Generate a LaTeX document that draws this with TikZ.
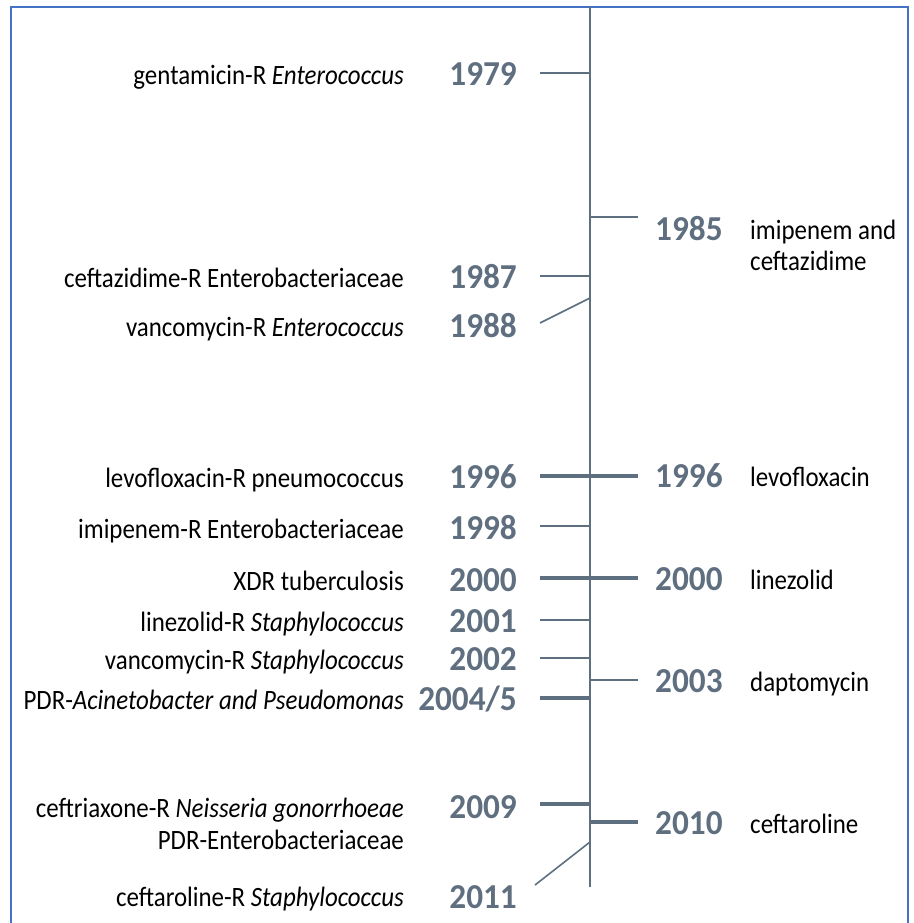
\documentclass[tikz,border=0pt]{standalone}
\usepackage{fontspec}
\setmainfont{Carlito}
\newfontfamily\yearfont[FakeStretch=0.95]{Carlito}
\newfontfamily\labfont[FakeStretch=0.89]{Carlito}
\usetikzlibrary{calc}
\usetikzlibrary{positioning}
\definecolor{FrameBlue}{HTML}{4472C4}
\definecolor{AxisGray}{HTML}{5E7080}
\definecolor{YearGray}{HTML}{5F6F80}

\begin{document}
\begin{tikzpicture}[x=1pt,y=-1pt,
  year/.style={inner sep=0pt,text=YearGray,font=\yearfont\bfseries\fontsize{35}{35}\selectfont},
  lab/.style={inner sep=0pt,font=\labfont\fontsize{28}{28}\selectfont},
  thintick/.style={AxisGray,line width=1.6pt},
  thicktick/.style={AxisGray,line width=4pt}]
  \useasboundingbox (0,0) rectangle (913,923);
  \draw[FrameBlue,line width=2pt] (11,930) -- (11,7) -- (908,7) -- (908,930);

  % time axis
  \coordinate (Top) at (590,7);
  \coordinate (Bottom) at (590,887);
  \draw[AxisGray,line width=2pt] (Top) -- (Bottom);

  % resistance, left side
  \foreach \yr/\ty/\yb/\txt in {%
      1979/73/86/{gentamicin-R \textit{Enterococcus}},
      1987/276/288/{ceftazidime-R Enterobacteriaceae},
      1998/526/539/{imipenem-R Enterobacteriaceae},
      2001/620/632/{linezolid-R \textit{Staphylococcus}},
      2002/658/670/{vancomycin-R \textit{Staphylococcus}}}{%
    \coordinate (a\yr) at (590,\ty);
    \coordinate (t\yr) at (540,\ty);
    \draw[thintick] (t\yr) -- (a\yr);
    \node[year,anchor=base east] (y\yr) at (517,\yb) {\yr};
    \node[lab,anchor=base east] (l\yr) at (404,\yb-1) {\txt};
  }
  \foreach \yr/\ty/\yb/\txt in {%
      1996/476/488/{levofloxacin-R pneumococcus},
      2000/578/591/{XDR tuberculosis},
      2004/698/710/{PDR-\textit{Acinetobacter and Pseudomonas}},
      2009/804/818/{ceftriaxone-R \textit{Neisseria gonorrhoeae}}}{%
    \coordinate (a\yr) at (590,\ty);
    \coordinate (t\yr) at (540,\ty);
    \draw[thicktick] (t\yr) -- (a\yr);
    \node[lab,anchor=base east] (l\yr) at (404,\yb-1) {\txt};
  }
  \node[year,anchor=base east] (y1996) at (517,488) {1996};
  \node[year,anchor=base east] (y2000) at (517,591) {2000};
  \node[year,anchor=base east] (y2004) at (517,710) {2004/5};
  \node[year,anchor=base east] (y2009) at (517,818) {2009};
  \node[lab,anchor=base east] (l2009b) at (404,849) {PDR-Enterobacteriaceae};

  % slanted ticks
  \coordinate (a1988) at (590,298);
  \coordinate (t1988) at (540,323);
  \draw[thintick] (t1988) -- (a1988);
  \node[year,anchor=base east] (y1988) at (517,337) {1988};
  \node[lab,anchor=base east] (l1988) at (404,336) {vancomycin-R \textit{Enterococcus}};
  \coordinate (a2011) at (590,842);
  \coordinate (t2011) at (535,885);
  \draw[thintick] (t2011) -- (a2011);
  \node[year,anchor=base east] (y2011) at (517,908) {2011};
  \node[lab,anchor=base east] (l2011) at (404,906) {ceftaroline-R \textit{Staphylococcus}};

  % new drugs, right side
  \foreach \yr/\ty/\yb/\txt in {%
      1985/217/240/{imipenem and},
      1996/476/487/{levofloxacin},
      2000/578/590/{linezolid},
      2003/680/692/{daptomycin},
      2010/822/834/{ceftaroline}}{%
    \coordinate (r\yr) at (638,\ty);
    \coordinate (b\yr) at (590,\ty);
    \node[year,anchor=base west] (ry\yr) at (655,\yb) {\yr};
    \node[lab,anchor=base west] (rl\yr) at (750,\yb-1) {\txt};
  }
  \draw[thintick] (b1985) -- (r1985);
  \draw[thicktick] (b1996) -- (r1996);
  \draw[thicktick] (b2000) -- (r2000);
  \draw[thintick] (b2003) -- (r2003);
  \draw[thicktick] (b2010) -- (r2010);
  \node[lab,anchor=base west] (rl1985b) at (750,270) {ceftazidime};
\end{tikzpicture}
\end{document}
